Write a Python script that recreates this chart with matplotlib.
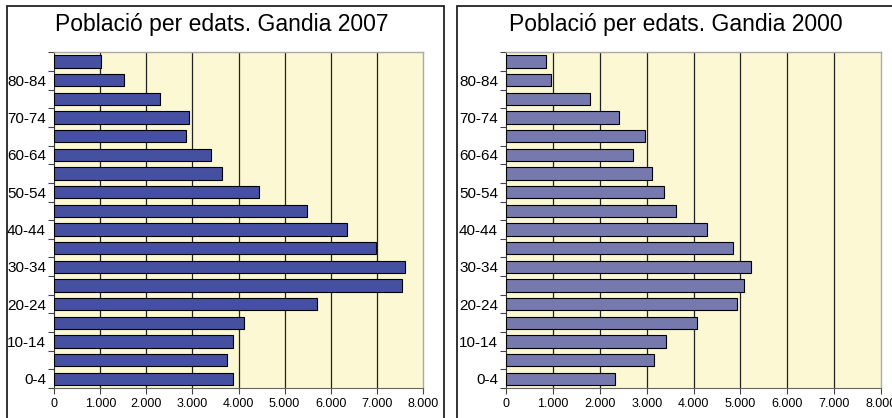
import matplotlib.pyplot as plt
from matplotlib.patches import Rectangle
from matplotlib.ticker import FuncFormatter
import numpy as np

plt.rcParams['font.family'] = ['Liberation Sans', 'DejaVu Sans']

# age groups, youngest first
groups = ['0-4', '5-9', '10-14', '15-19', '20-24', '25-29', '30-34', '35-39',
          '40-44', '45-49', '50-54', '55-59', '60-64', '65-69', '70-74',
          '75-79', '80-84', '85+']
pop_2007 = [3880, 3760, 3880, 4130, 5710, 7560, 7610, 6990, 6360, 5480,
            4450, 3650, 3410, 2870, 2930, 2300, 1520, 1010]
pop_2000 = [2330, 3150, 3400, 4080, 4930, 5080, 5220, 4850, 4280, 3620,
            3370, 3110, 2700, 2970, 2410, 1790, 960, 840]

W, H = 892, 418
fig = plt.figure(figsize=(W / 100, H / 100), dpi=100)

def thousands(v, pos):
    return f'{int(v):,}'.replace(',', '.')

def draw_panel(rect, values, color, title, box, title_x):
    # outer frame of the chart object
    fig.patches.append(Rectangle((box[0] / W, -0.05), (box[1] - box[0]) / W, 1.05 - 6 / H,
                                 transform=fig.transFigure, fill=False,
                                 edgecolor='#222222', linewidth=1.3, clip_on=False))
    fig.text(title_x / W, 1 - 24 / H, title, ha='center', va='center', fontsize=16.5)

    ax = fig.add_axes(rect)
    ax.set_facecolor('#fbf8d3')
    y = np.arange(len(groups))
    ax.barh(y, values, height=0.66, color=color, edgecolor='black', linewidth=0.8, zorder=3)
    ax.set_xlim(0, 8000)
    ax.set_ylim(-0.5, len(groups) - 0.5)
    ax.set_xticks(np.arange(0, 8001, 1000))
    ax.xaxis.set_major_formatter(FuncFormatter(thousands))
    for xv in range(1000, 8000, 1000):
        ax.axvline(xv, color='#222222', linewidth=0.9, zorder=1)

    ax.set_yticks(y[::2])
    ax.set_yticklabels(groups[::2])
    ax.set_yticks(np.arange(-0.5, len(groups), 1.0), minor=True)
    ax.tick_params(axis='y', which='major', length=0, pad=6, labelsize=11)
    ax.tick_params(axis='y', which='minor', length=4, width=0.8, color='#444444')
    ax.tick_params(axis='x', length=4, width=0.8, color='#444444', pad=3, labelsize=9)

    for side in ['top', 'right']:
        ax.spines[side].set_color('#aaaaaa')
        ax.spines[side].set_linewidth(1.0)
    ax.spines['left'].set_color('#333333')
    ax.spines['bottom'].set_color('#666666')
    return ax

draw_panel([54.3 / W, 30 / H, 368.4 / W, 335.7 / H], pop_2007, '#4650a0',
           'Població per edats. Gandia 2007', (7, 444), 222)
draw_panel([506.3 / W, 30 / H, 374.7 / W, 335.7 / H], pop_2000, '#7679ad',
           'Població per edats. Gandia 2000', (457, 900), 676)

fig.savefig('out.png', dpi=100)
